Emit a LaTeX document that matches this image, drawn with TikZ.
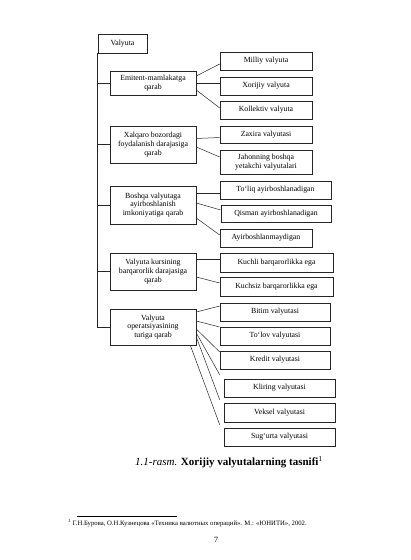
\documentclass[tikz,border=0pt]{standalone}
\usepackage{fontspec}
\setmainfont{Liberation Serif}
\usepackage{tikz}
\usetikzlibrary{shapes,arrows}
\usetikzlibrary{positioning,fit}
\definecolor{ink}{gray}{0.15}
\tikzstyle{box} = [draw=ink, rectangle, line width=0.6pt, fill=white, inner sep=0pt,
    align=center, text=black, font=\fontsize{7.8}{8.7}\selectfont]
\tikzstyle{link} = [ink, line width=0.5pt]

\begin{document}
\begin{tikzpicture}[x=1pt, y=-1pt]
  \useasboundingbox (0,0) rectangle (411,560);
  \node [box, minimum width=49, minimum height=19] (val) at (122.5,43.5) {Valyuta};
  \node [box, minimum width=86, minimum height=24] (emi) at (153,83) {Emitent-mamlakatga\\qarab};
  \node [box, minimum width=86, minimum height=37] (xal) at (153,144.5) {Xalqaro bozordagi\\foydalanish darajasiga\\qarab};
  \node [box, minimum width=86, minimum height=38] (bos) at (153,205) {Boshqa valyutaga\\ayirboshlanish\\imkoniyatiga qarab};
  \node [box, minimum width=86, minimum height=37] (kur) at (153,271.5) {Valyuta kursining\\barqarorlik darajasiga\\qarab};
  \node [box, minimum width=86, minimum height=36] (ope) at (153,327) {Valyuta\\operatsiyasining\\turiga qarab};
  \node [box, minimum width=92, minimum height=18] (mil) at (266,61) {Milliy valyuta};
  \node [box, minimum width=92, minimum height=18] (xor) at (266,86) {Xorijiy valyuta};
  \node [box, minimum width=92, minimum height=18] (kol) at (266,110) {Kollektiv valyuta};
  \node [box, minimum width=92, minimum height=17] (zax) at (266,134.5) {Zaxira valyutasi};
  \node [box, minimum width=92, minimum height=24] (jah) at (266,162) {Jahonning boshqa\\yetakchi valyutalari};
  \node [box, minimum width=111, minimum height=18] (tol) at (275.5,190) {To‘liq ayirboshlanadigan};
  \node [box, minimum width=110, minimum height=17] (qis) at (276,213.5) {Qisman ayirboshlanadigan};
  \node [box, minimum width=92, minimum height=18] (ayi) at (266,238) {Ayirboshlanmaydigan};
  \node [box, minimum width=113, minimum height=19] (kuc) at (276.5,262.5) {Kuchli barqarorlikka ega};
  \node [box, minimum width=113, minimum height=19] (kcz) at (276.5,286.5) {Kuchsiz barqarorlikka ega};
  \node [box, minimum width=110, minimum height=18] (bit) at (275,312) {Bitim valyutasi};
  \node [box, minimum width=110, minimum height=18] (tlv) at (275,336) {To‘lov valyutasi};
  \node [box, minimum width=110, minimum height=18] (kre) at (275,360) {Kredit valyutasi};
  \node [box, minimum width=111, minimum height=18] (kli) at (279.5,388) {Kliring valyutasi};
  \node [box, minimum width=111, minimum height=19] (vek) at (279.5,412.5) {Veksel valyutasi};
  \node [box, minimum width=111, minimum height=18] (sug) at (279.5,437) {Sug‘urta valyutasi};
  \draw [link] (val.south west) |- (ope.west);
  \draw [link] (val.south west |- emi.west) -- (emi.west);
  \draw [link] (val.south west |- xal.west) -- (xal.west);
  \draw [link] (val.south west |- bos.west) -- (bos.west);
  \draw [link] (val.south west |- kur.west) -- (kur.west);
  \draw [link] ([yshift=7pt]emi.east) -- ([yshift=-3pt]mil.west);
  \draw [link] (emi.east) -- ([yshift=3pt]xor.west);
  \draw [link] ([yshift=-7pt]emi.east) -- ([yshift=2pt]kol.west);
  \draw [link] ([yshift=6pt]xal.east) -- ([yshift=-3pt]zax.west);
  \draw [link] ([yshift=-2.5pt]xal.east) -- ([yshift=5pt]jah.west);
  \draw [link] ([yshift=12pt]bos.east) -- ([yshift=-3pt]tol.west);
  \draw [link] ([yshift=2pt]bos.east) -- ([yshift=3.5pt]qis.west);
  \draw [link] ([yshift=-13pt]bos.east) -- ([yshift=3pt]ayi.west);
  \draw [link] ([yshift=12.5pt]kur.east) -- ([yshift=3.5pt]kuc.west);
  \draw [link] ([yshift=-5.5pt]kur.east) -- ([yshift=3.5pt]kcz.west);
  \draw [link] ([yshift=15pt]ope.east) -- ([yshift=6pt]bit.west);
  \draw [link] ([yshift=6pt]ope.east) -- ([yshift=9pt]tlv.west);
  \draw [link] ([yshift=-2pt]ope.east) -- ([yshift=8pt]kre.west);
  \draw [link] ([yshift=-6pt]ope.east) -- ([xshift=-4pt,yshift=4pt]kli.north west);
  \draw [link] ([yshift=-10pt]ope.east) -- ([xshift=-4pt,yshift=3pt]vek.north west);
  \draw [link] ([xshift=-6pt]ope.south east) -- ([xshift=-4pt,yshift=3pt]sug.north west);
  \node [font=\fontsize{11}{13}\selectfont, anchor=base] (cap) at (229,465)
    {\textit{1.1-rasm.} \textbf{Xorijiy valyutalarning tasnifi}\textsuperscript{1}};
  \coordinate (rulea) at (77,516);
  \coordinate (ruleb) at (177,516);
  \draw [line width=0.5pt] (rulea) -- (ruleb);
  \node [font=\fontsize{6.7}{7.5}\selectfont, anchor=west, inner sep=0pt] (foot) at (68,523)
    {\textsuperscript{1} Г.Н.Бурова, О.Н.Кузнецова «Техника валютных операций». М.: «ЮНИТИ», 2002.};
  \node [font=\fontsize{8}{9}\selectfont] (page) at (216,540) {7};
\end{tikzpicture}
\end{document}
